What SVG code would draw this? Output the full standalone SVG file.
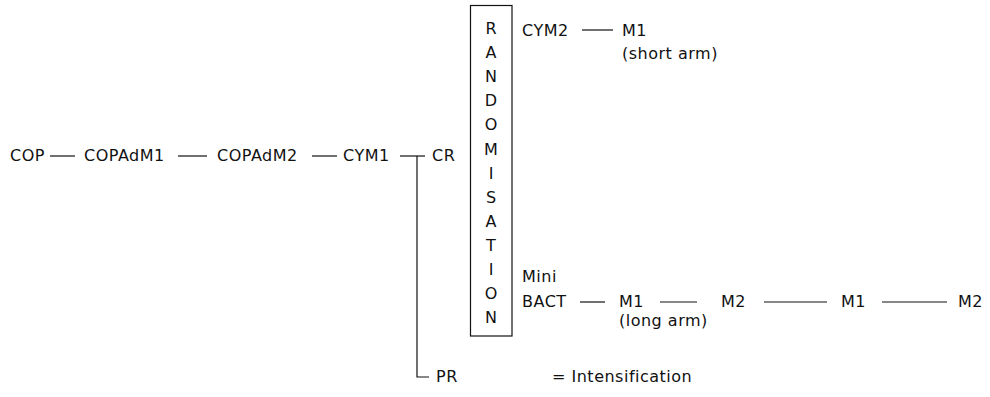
<svg xmlns="http://www.w3.org/2000/svg" width="990" height="397" viewBox="0 0 990 397">
<style>
text{font-family:"DejaVu Sans","Liberation Sans",sans-serif;font-size:16px;fill:#111;letter-spacing:0.5px}
.l{stroke:#111;stroke-width:1.2;fill:none}
.r{text-anchor:middle;letter-spacing:0}
</style>
<rect width="990" height="397" fill="#fff"/>
<g id="connectors">
<line class="l" x1="50" y1="156" x2="75" y2="156"/>
<line class="l" x1="178" y1="156" x2="207" y2="156"/>
<line class="l" x1="312" y1="156" x2="337" y2="156"/>
<line class="l" x1="400" y1="156" x2="425" y2="156"/>
<polyline class="l" points="417,156 417,377 429,377"/>
<line class="l" x1="582" y1="30" x2="613" y2="30"/>
<line class="l" x1="580" y1="302" x2="605" y2="302"/>
<line class="l" x1="660" y1="302" x2="697" y2="302"/>
<line class="l" x1="764" y1="302" x2="827" y2="302"/>
<line class="l" x1="882" y1="302" x2="947" y2="302"/>
</g>
<g id="cop"><text x="10" y="161">COP</text></g>
<g id="copadm1"><text x="84" y="161">COPAdM1</text></g>
<g id="copadm2"><text x="217" y="161">COPAdM2</text></g>
<g id="cym1"><text x="343" y="161">CYM1</text></g>
<g id="cr"><text x="432" y="161">CR</text></g>
<g id="pr"><text x="436" y="382">PR</text></g>
<g id="legend"><text x="552" y="382">= Intensification</text></g>
<g id="randomisation">
<rect class="l" x="470.5" y="5.5" width="41.5" height="330.5"/>
<text class="r" x="491" y="34">R</text>
<text class="r" x="491" y="58">A</text>
<text class="r" x="491" y="82">N</text>
<text class="r" x="491" y="106">D</text>
<text class="r" x="491" y="130">O</text>
<text class="r" x="491" y="155">M</text>
<text class="r" x="491" y="179">I</text>
<text class="r" x="491" y="203">S</text>
<text class="r" x="491" y="227">A</text>
<text class="r" x="491" y="251">T</text>
<text class="r" x="491" y="275">I</text>
<text class="r" x="491" y="299">O</text>
<text class="r" x="491" y="323">N</text>
</g>
<g id="cym2"><text x="522" y="36">CYM2</text></g>
<g id="m1-short"><text x="622" y="36">M1</text><text x="622" y="59">(short arm)</text></g>
<g id="minibact"><text x="522" y="282">Mini</text><text x="522" y="307">BACT</text></g>
<g id="m1-long"><text x="619" y="307">M1</text><text x="619" y="326">(long arm)</text></g>
<g id="m2a"><text x="721" y="307">M2</text></g>
<g id="m1b"><text x="841" y="307">M1</text></g>
<g id="m2b"><text x="958" y="307">M2</text></g>
</svg>
